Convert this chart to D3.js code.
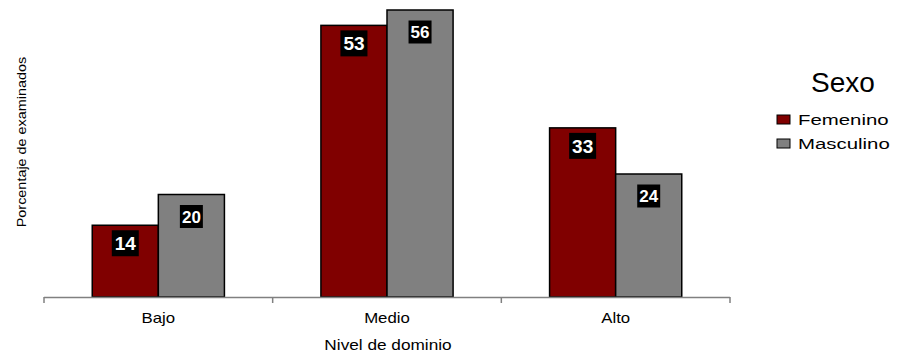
<!DOCTYPE html>
<html><head><meta charset="utf-8">
<script src="https://cdn.jsdelivr.net/npm/d3@7"></script>
<style>body{margin:0;background:#fff}svg{display:block}text{font-family:"Liberation Sans",Arial,sans-serif}</style>
</head><body>
<svg id="c" width="907" height="356"></svg>
<script>
const categories = ["Bajo", "Medio", "Alto"];
const series = ["Femenino", "Masculino"];
const femenino = [14, 53, 33];
const masculino = [20, 56, 24];
const colors = {Femenino: "#800000", Masculino: "#808080"};
const yTitle = "Porcentaje de examinados";
const xTitle = "Nivel de dominio";
const legendTitle = "Sexo";

const values = {Femenino: femenino, Masculino: masculino};
const svg = d3.select("#c");
const x0 = d3.scaleBand().domain(categories).range([44, 730]).padding(0);
const bw = x0.bandwidth();
const x1 = d3.scaleBand().domain(series).range([bw * 0.211, bw * 0.789]).padding(0);
const y = d3.scaleLinear().domain([0, 60]).range([297, -10.5]);

const data = [];
categories.forEach((c, i) => series.forEach(s => data.push({c, s, v: values[s][i]})));

// bars
svg.append("g").selectAll("rect").data(data).join("rect")
  .attr("x", d => x0(d.c) + x1(d.s))
  .attr("y", d => y(d.v))
  .attr("width", x1.bandwidth())
  .attr("height", d => y(0) - y(d.v))
  .attr("fill", d => colors[d.s])
  .attr("stroke", "#000").attr("stroke-width", 1.5);

// axis
const ax = svg.append("g");
ax.append("line").attr("x1", 44).attr("x2", 730).attr("y1", y(0) + 0.5).attr("y2", y(0) + 0.5)
  .attr("stroke", "#808080").attr("stroke-width", 1.5);
const bounds = categories.map(c => x0(c)).concat([x0.range()[1]]);
ax.selectAll("line.t").data(bounds).join("line").attr("class", "t")
  .attr("x1", d => d).attr("x2", d => d).attr("y1", y(0)).attr("y2", y(0) + 6)
  .attr("stroke", "#808080").attr("stroke-width", 1.5);

const xa = svg.append("g").attr("transform", `translate(0,${y(0)})`)
  .call(d3.axisBottom(x0).tickSize(0).tickPadding(0));
xa.select(".domain").remove();
xa.selectAll("text").attr("y", 26).attr("dy", 0).attr("fill", "#000")
  .style("font-size", "14px").attr("transform", "scale(1.2,1)");

// titles
svg.append("text").attr("transform", `translate(388,350) scale(1.23,1)`)
  .attr("text-anchor", "middle").style("font-size", "14px").text(xTitle);
svg.append("text").attr("transform", `translate(26,142) rotate(-90) scale(1.2,1)`)
  .attr("text-anchor", "middle").style("font-size", "12px").text(yTitle);

// data labels
const lab = svg.append("g").selectAll("g").data(data).join("g")
  .attr("transform", d => `translate(${x0(d.c) + x1(d.s) + x1.bandwidth() / 2},${y(d.v) + (d.s === "Femenino" ? 18 : 22)})`);
lab.append("rect")
  .attr("x", d => d.s === "Femenino" ? -13.5 : -11.5)
  .attr("y", d => d.s === "Femenino" ? -13 : -11.5)
  .attr("width", d => d.s === "Femenino" ? 27 : 23)
  .attr("height", d => d.s === "Femenino" ? 26 : 23)
  .attr("fill", "#000");
lab.append("text").attr("text-anchor", "middle").attr("dy", "0.36em")
  .attr("fill", "#fff").style("font-weight", "bold")
  .style("font-size", d => d.s === "Femenino" ? "19px" : "17px")
  .text(d => d.v);

// legend
const lg = svg.append("g");
lg.append("text").attr("x", 811).attr("y", 92).style("font-size", "28px").text(legendTitle);
const li = lg.selectAll("g").data(series).join("g")
  .attr("transform", (d, i) => `translate(777,${115 + i * 24})`);
li.append("rect").attr("width", 13).attr("height", 9)
  .attr("fill", d => colors[d]).attr("stroke", "#000").attr("stroke-width", 1);
li.append("text").attr("transform", "translate(21,9.5) scale(1.36,1)")
  .style("font-size", "15px").text(d => d);
</script>
</body></html>
